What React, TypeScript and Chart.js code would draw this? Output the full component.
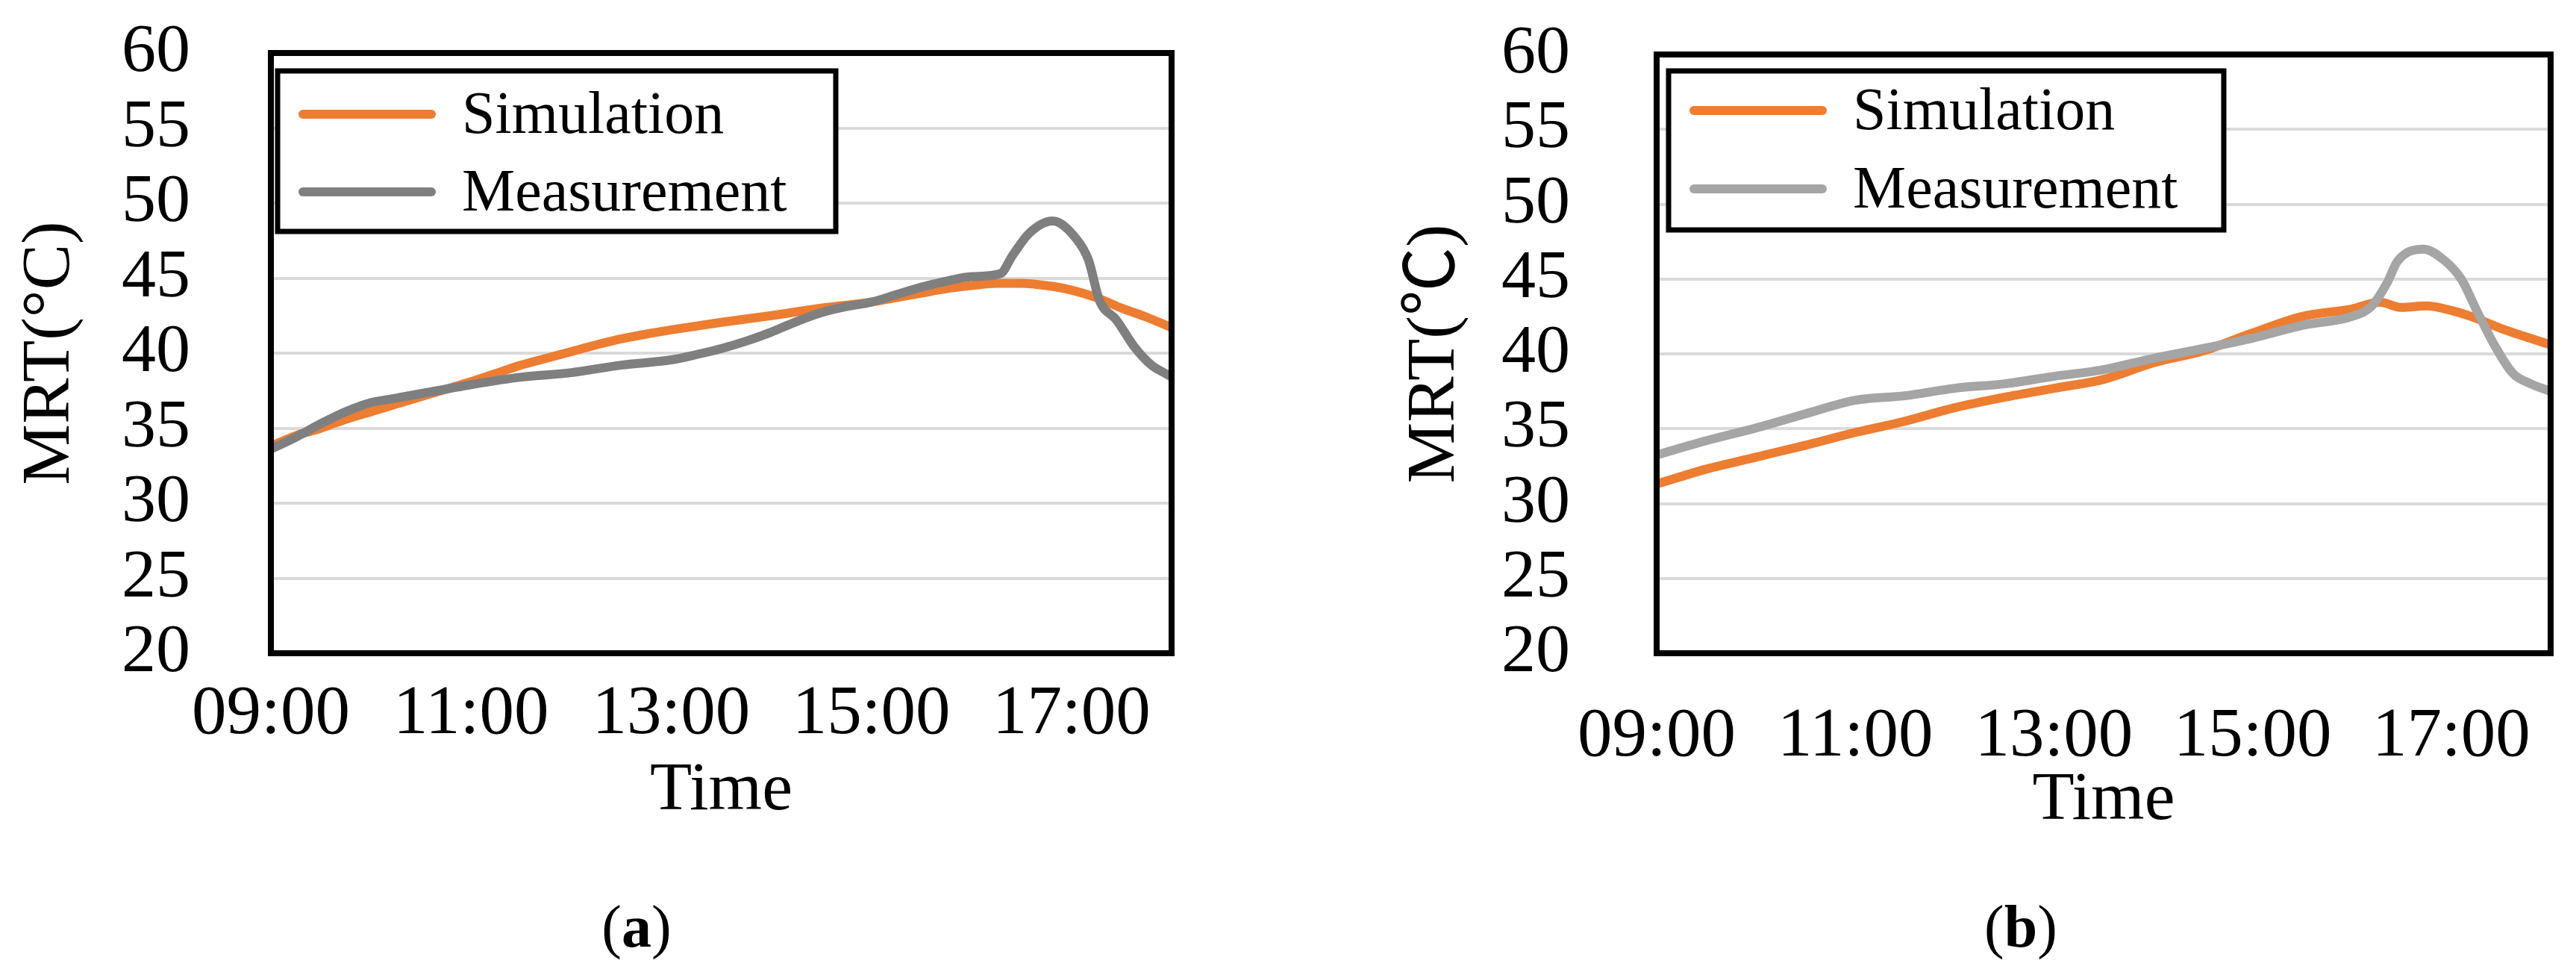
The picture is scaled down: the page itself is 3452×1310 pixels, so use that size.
import React, { useEffect, useRef } from 'react';
import { Chart, registerables } from 'chart.js';

Chart.register(...registerables);

// ---------- data ----------
const seriesLabels = ['Simulation', 'Measurement'];
const xTickHours = [9, 11, 13, 15, 17];
const xTickLabels = ['09:00', '11:00', '13:00', '15:00', '17:00'];
const yMin = 20;
const yMax = 60;
const yStep = 5;
const xMinHour = 9;
const xMaxHour = 18;

// Panel (a)
const simATimes = [9.0, 9.25, 9.5, 9.75, 10.0, 10.25, 10.5, 10.75, 11.0, 11.25, 11.5, 11.75, 12.0, 12.25, 12.5, 12.75, 13.0, 13.5, 14.0, 14.5, 15.0, 15.25, 15.5, 15.75, 16.0, 16.25, 16.5, 16.75, 17.0, 17.25, 17.5, 17.75, 18.0];
const simAValues = [33.8, 34.5, 35.0, 35.6, 36.1, 36.6, 37.1, 37.6, 38.1, 38.65, 39.2, 39.65, 40.1, 40.55, 40.95, 41.27, 41.55, 42.05, 42.5, 43.0, 43.4, 43.7, 44.0, 44.3, 44.5, 44.65, 44.65, 44.5, 44.2, 43.7, 43.0, 42.4, 41.7];
const measATimes = [9.0, 9.25, 9.5, 9.75, 10.0, 10.25, 10.5, 10.75, 11.0, 11.5, 12.0, 12.5, 13.0, 13.25, 13.5, 13.75, 14.0, 14.25, 14.5, 14.75, 15.0, 15.25, 15.5, 15.75, 16.0, 16.29, 16.41, 16.58, 16.81, 17.05, 17.17, 17.28, 17.45, 17.63, 17.8, 17.95, 18.0];
const measAValues = [33.6, 34.4, 35.3, 36.1, 36.7, 37.0, 37.3, 37.6, 37.9, 38.4, 38.7, 39.2, 39.55, 39.9, 40.3, 40.8, 41.4, 42.1, 42.7, 43.1, 43.4, 43.9, 44.4, 44.8, 45.1, 45.3, 46.5, 48.0, 48.8, 47.6, 46.2, 43.5, 42.2, 40.4, 39.2, 38.6, 38.4];

// Panel (b)
const simBTimes = [9.0, 9.5, 10.0, 10.5, 11.0, 11.5, 12.0, 12.5, 13.0, 13.5, 14.0, 14.5, 15.0, 15.5, 16.0, 16.28, 16.5, 16.75, 17.0, 17.2, 17.5, 18.0];
const simBValues = [31.3, 32.3, 33.1, 33.9, 34.75, 35.5, 36.4, 37.1, 37.7, 38.3, 39.4, 40.2, 41.4, 42.5, 43.0, 43.45, 43.1, 43.2, 42.9, 42.5, 41.7, 40.6];
const measBTimes = [9.0, 9.5, 10.0, 10.5, 11.0, 11.5, 12.0, 12.5, 13.0, 13.5, 14.0, 14.5, 15.0, 15.5, 16.0, 16.2, 16.35, 16.46, 16.72, 16.92, 17.1, 17.27, 17.45, 17.62, 17.8, 18.0];
const measBValues = [33.25, 34.2, 35.05, 36.0, 36.9, 37.2, 37.7, 38.0, 38.5, 38.95, 39.7, 40.35, 41.05, 41.9, 42.5, 43.2, 44.7, 46.2, 47.0, 46.3, 45.0, 42.7, 40.4, 38.7, 38.0, 37.5];

const yTitleA = 'MRT(°C)';
const yTitleB = 'MRT(℃)';
const xTitle = 'Time';
const panelLabels = ['a', 'b'];

const colorSim = '#ED7D31';
const colorMeasA = '#7F7F7F';
const colorMeasB = '#A5A5A5';

const SERIF = '"Liberation Serif", "Times New Roman", "Noto Sans CJK SC", serif';

const zip = (xs: number[], ys: number[]) => xs.map((x, i) => ({ x, y: ys[i] }));

const frameLegendPlugin = {
  id: 'frameLegend',
  afterDatasetsDraw(chart: any, _args: any, opts: any) {
    const { ctx, chartArea: a } = chart;
    ctx.save();
    ctx.strokeStyle = '#000';
    ctx.lineWidth = 8;
    ctx.lineJoin = 'miter';
    ctx.strokeRect(a.left, a.top, a.right - a.left, a.bottom - a.top);

    const bx = a.left + opts.dx;
    const by = a.top + opts.dy;
    ctx.fillStyle = '#fff';
    ctx.fillRect(bx, by, opts.w, opts.h);
    ctx.lineWidth = 7;
    ctx.strokeStyle = '#000';
    ctx.strokeRect(bx, by, opts.w, opts.h);
    chart.data.datasets.forEach((ds: any, i: number) => {
      const y = by + opts.row0 + i * opts.rowGap;
      ctx.strokeStyle = ds.borderColor;
      ctx.lineWidth = 12;
      ctx.lineCap = 'round';
      ctx.beginPath();
      ctx.moveTo(bx + 34, y);
      ctx.lineTo(bx + 206, y);
      ctx.stroke();
      ctx.fillStyle = '#000';
      ctx.font = '80px ' + SERIF;
      ctx.textBaseline = 'alphabetic';
      ctx.textAlign = 'left';
      ctx.fillText(ds.label, bx + 247, y + 25);
    });
    ctx.restore();
  },
};

type PanelCfg = {
  width: number;
  height: number;
  sim: { x: number; y: number }[];
  meas: { x: number; y: number }[];
  measColor: string;
  yTitle: string;
  yScaleWidth: number;
  yTitlePad: number;
  yTickPad: number;
  xScaleHeight: number;
  xTickPad: number;
  xTitlePad: number;
  padTop: number;
  padRight: number;
  legend: { dx: number; dy: number; w: number; h: number; row0: number; rowGap: number };
};

function Panel({ cfg }: { cfg: PanelCfg }) {
  const ref = useRef<HTMLCanvasElement | null>(null);
  useEffect(() => {
    if (!ref.current) return;
    const chart = new Chart(ref.current, {
      type: 'line',
      data: {
        datasets: [
          {
            label: seriesLabels[0],
            data: cfg.sim,
            borderColor: colorSim,
            backgroundColor: colorSim,
            borderWidth: 12,
            pointRadius: 0,
            cubicInterpolationMode: 'monotone',
            order: 1,
          },
          {
            label: seriesLabels[1],
            data: cfg.meas,
            borderColor: cfg.measColor,
            backgroundColor: cfg.measColor,
            borderWidth: 12,
            pointRadius: 0,
            cubicInterpolationMode: 'monotone',
            order: 0,
          },
        ],
      },
      options: {
        responsive: false,
        animation: false,
        devicePixelRatio: 1,
        layout: { padding: { top: cfg.padTop, right: cfg.padRight, left: 0, bottom: 0 } },
        plugins: {
          legend: { display: false },
          tooltip: { enabled: false },
          frameLegend: cfg.legend,
        } as any,
        scales: {
          x: {
            type: 'linear',
            min: xMinHour,
            max: xMaxHour,
            grid: { display: false, drawTicks: false },
            border: { display: false },
            afterBuildTicks: (scale: any) => {
              scale.ticks = xTickHours.map((v) => ({ value: v }));
            },
            afterFit: (scale: any) => {
              scale.height = cfg.xScaleHeight;
              scale.paddingLeft = 0;
              scale.paddingRight = 0;
            },
            ticks: {
              autoSkip: false,
              maxRotation: 0,
              minRotation: 0,
              padding: cfg.xTickPad,
              color: '#000',
              font: { family: SERIF, size: 93, lineHeight: 1 },
              callback: (v: any) => {
                const i = xTickHours.indexOf(Number(v));
                return i >= 0 ? xTickLabels[i] : '';
              },
            },
            title: {
              display: true,
              text: xTitle,
              color: '#000',
              font: { family: SERIF, size: 92, lineHeight: 1 },
              padding: { top: 0, bottom: cfg.xTitlePad },
            },
          },
          y: {
            type: 'linear',
            min: yMin,
            max: yMax,
            grid: { color: '#DADADA', lineWidth: 4, drawTicks: false },
            border: { display: false },
            afterFit: (scale: any) => {
              scale.width = cfg.yScaleWidth;
              scale.paddingTop = 0;
              scale.paddingBottom = 0;
            },
            ticks: {
              autoSkip: false,
              stepSize: yStep,
              padding: cfg.yTickPad,
              color: '#000',
              font: { family: SERIF, size: 92, lineHeight: 1 },
            },
            title: {
              display: true,
              text: cfg.yTitle,
              color: '#000',
              font: { family: SERIF, size: 92, lineHeight: 1 },
              padding: { top: cfg.yTitlePad, bottom: 0 },
            },
          },
        },
      },
      plugins: [frameLegendPlugin],
    } as any);
    return () => chart.destroy();
  }, [cfg]);
  return <canvas ref={ref} width={cfg.width} height={cfg.height} style={{ width: cfg.width, height: cfg.height, display: 'block' }} />;
}

const cfgA: PanelCfg = {
  width: 1740,
  height: 1310,
  sim: zip(simATimes, simAValues),
  meas: zip(measATimes, measAValues),
  measColor: colorMeasA,
  yTitle: yTitleA,
  yScaleWidth: 363,
  yTitlePad: 22,
  yTickPad: 108,
  xScaleHeight: 435,
  xTickPad: 36,
  xTitlePad: 204,
  padTop: 71,
  padRight: 170,
  legend: { dx: 9, dy: 24, w: 748, h: 215, row0: 58, rowGap: 104 },
};

const cfgB: PanelCfg = {
  width: 1712,
  height: 1310,
  sim: zip(simBTimes, simBValues),
  meas: zip(measBTimes, measBValues),
  measColor: colorMeasB,
  yTitle: yTitleB,
  yScaleWidth: 480,
  yTitlePad: 138,
  yTickPad: 116,
  xScaleHeight: 435,
  xTickPad: 66,
  xTitlePad: 191,
  padTop: 73,
  padRight: 34,
  legend: { dx: 16, dy: 22, w: 744, h: 213, row0: 53, rowGap: 105 },
};

export default function App() {
  const labelStyle = (cx: number): React.CSSProperties => ({
    position: 'absolute',
    left: cx - 100,
    top: 1191,
    width: 200,
    textAlign: 'center',
    fontFamily: SERIF,
    fontSize: 80,
    lineHeight: '100px',
    color: '#000',
  });
  return (
    <div style={{ position: 'absolute', left: 0, top: 0, width: 3452, height: 1310, background: '#fff', overflow: 'hidden' }}>
      <div style={{ position: 'absolute', left: 0, top: 0 }}>
        <Panel cfg={cfgA} />
      </div>
      <div style={{ position: 'absolute', left: 1740, top: 0 }}>
        <Panel cfg={cfgB} />
      </div>
      <div style={labelStyle(853)}>(<b>{panelLabels[0]}</b>)</div>
      <div style={labelStyle(2708)}>(<b>{panelLabels[1]}</b>)</div>
    </div>
  );
}
